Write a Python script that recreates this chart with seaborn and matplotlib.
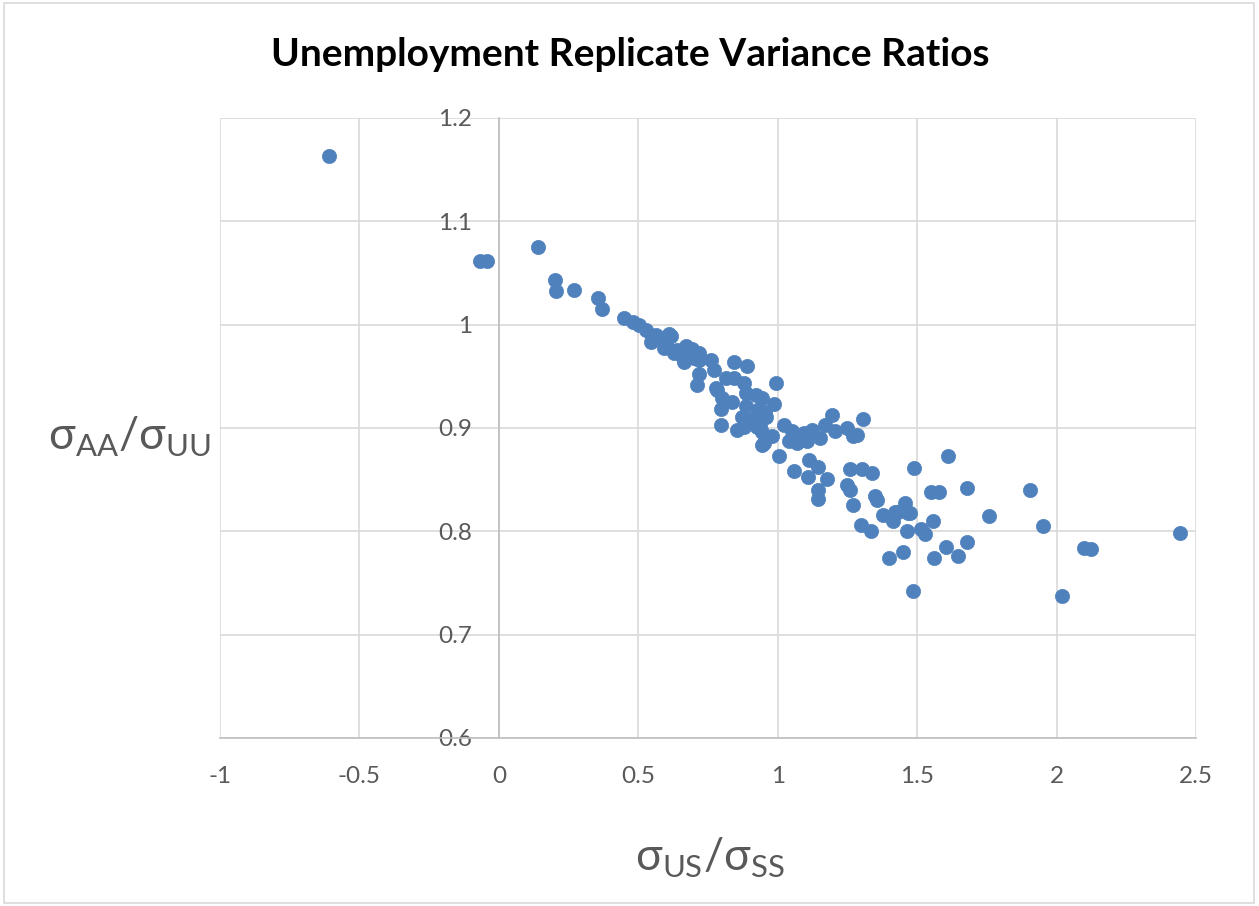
import numpy as np
import pandas as pd
import matplotlib
matplotlib.use("Agg")
import matplotlib.pyplot as plt
import seaborn as sns
from matplotlib.patches import Rectangle

# values
x_ratio = [-0.61, -0.068, -0.044, 0.14, 0.20, 0.206, 0.268, 0.357, 0.37, 0.45,
           0.48, 0.504, 0.527, 0.55, 0.545, 0.58, 0.61, 0.593, 0.629, 0.67,
           0.664, 0.694, 0.718, 0.718, 0.76, 0.771, 0.843, 0.89, 0.718, 0.712,
           0.813, 0.843, 0.879, 0.777, 0.782, 0.80, 0.836, 0.796, 0.886, 0.921,
           0.943, 0.993, 0.886, 0.932, 0.871, 0.914, 0.957, 0.796, 0.854, 0.879,
           0.925, 0.943, 0.943, 0.979, 0.986, 0.956, 0.938, 0.95, 1.004, 1.021,
           1.051, 1.04, 1.069, 1.093, 1.105, 1.123, 1.152, 1.17, 1.194, 1.206,
           1.248, 1.271, 1.284, 1.307, 1.111, 1.144, 1.057, 1.108, 1.176, 1.146,
           1.144, 1.26, 1.301, 1.337, 1.248, 1.26, 1.271, 1.349, 1.355, 1.379,
           1.42, 1.611, 1.49, 1.551, 1.579, 1.68, 1.906, 1.456, 1.468, 1.557,
           1.757, 1.462, 1.515, 1.527, 1.45, 1.561, 1.602, 1.646, 1.68, 1.95,
           1.486, 2.021, 2.099, 2.123, 2.444, 1.432, 1.474, 1.414, 1.40, 1.30,
           1.336, 0.565, 0.60, 0.64, 0.655, 0.70, 0.617]
y_ratio = [1.163, 1.062, 1.062, 1.075, 1.043, 1.033, 1.034, 1.026, 1.015, 1.006,
           1.003, 1.000, 0.995, 0.989, 0.983, 0.987, 0.991, 0.977, 0.973, 0.979,
           0.964, 0.976, 0.973, 0.966, 0.966, 0.956, 0.964, 0.960, 0.952, 0.942,
           0.948, 0.948, 0.944, 0.939, 0.937, 0.929, 0.925, 0.918, 0.934, 0.932,
           0.929, 0.944, 0.921, 0.918, 0.911, 0.910, 0.911, 0.903, 0.898, 0.901,
           0.901, 0.896, 0.884, 0.892, 0.923, 0.915, 0.902, 0.885, 0.873, 0.903,
           0.897, 0.887, 0.885, 0.895, 0.887, 0.898, 0.890, 0.903, 0.913, 0.897,
           0.900, 0.892, 0.893, 0.909, 0.869, 0.862, 0.858, 0.853, 0.851, 0.840,
           0.831, 0.860, 0.860, 0.856, 0.845, 0.840, 0.825, 0.834, 0.830, 0.816,
           0.819, 0.873, 0.861, 0.838, 0.838, 0.842, 0.840, 0.827, 0.818, 0.810,
           0.815, 0.800, 0.802, 0.797, 0.780, 0.774, 0.785, 0.776, 0.790, 0.805,
           0.742, 0.737, 0.784, 0.783, 0.798, 0.819, 0.818, 0.810, 0.774, 0.806,
           0.800, 0.990, 0.982, 0.975, 0.970, 0.968, 0.989]

x_ticks = [-1, -0.5, 0, 0.5, 1, 1.5, 2, 2.5]
x_tick_labels = ["-1", "-0.5", "0", "0.5", "1", "1.5", "2", "2.5"]
y_ticks = [0.6, 0.7, 0.8, 0.9, 1.0, 1.1, 1.2]
y_tick_labels = ["0.6", "0.7", "0.8", "0.9", "1", "1.1", "1.2"]

df = pd.DataFrame({"x": x_ratio, "y": y_ratio})

sns.set_style("white")
plt.rcParams["font.family"] = ["Lato", "DejaVu Sans"]

fig = plt.figure(figsize=(12.59, 9.06), dpi=100)
ax = fig.add_axes([220 / 1259, 1 - 738 / 906, (1196 - 220) / 1259, (738 - 118) / 906])

grey = "#595959"
grid = "#D9D9D9"

sns.scatterplot(data=df, x="x", y="y", ax=ax, color="#4F81BD", s=105,
                edgecolor="#4F81BD", linewidth=0.5, zorder=3)

ax.set_xlim(-1, 2.5)
ax.set_ylim(0.6, 1.2)
ax.set_xticks(x_ticks)
ax.set_xticklabels(x_tick_labels)
ax.set_yticks(y_ticks)
ax.set_yticklabels(y_tick_labels)
ax.grid(True, color=grid, linewidth=1.2, zorder=0)
ax.set_axisbelow(True)

for side in ["top", "right"]:
    ax.spines[side].set_visible(False)
ax.spines["left"].set_position(("data", 0))
ax.spines["left"].set_color("#BFBFBF")
ax.spines["left"].set_linewidth(1.2)
ax.spines["bottom"].set_color("#BFBFBF")
ax.spines["bottom"].set_linewidth(1.2)
ax.tick_params(axis="both", length=0, labelsize=17.5, labelcolor=grey)
ax.tick_params(axis="x", pad=20)
ax.tick_params(axis="y", pad=19)
ax.set_xlabel("")
ax.set_ylabel("")

fig.text(630 / 1259, 1 - 55 / 906, "Unemployment Replicate Variance Ratios",
         ha="center", va="center", fontsize=28, fontweight="bold", color="black")
fig.text(129 / 1259, 1 - 437 / 906, r"σ$_{\mathregular{AA}}$/σ$_{\mathregular{UU}}$",
         ha="center", va="center", fontsize=32, color=grey)
fig.text(710 / 1259, 1 - 858 / 906, r"σ$_{\mathregular{US}}$/σ$_{\mathregular{SS}}$",
         ha="center", va="center", fontsize=32, color=grey)

fig.patches.append(Rectangle((4 / 1259, 3 / 906), 1250 / 1259, 900 / 906,
                             transform=fig.transFigure, fill=False,
                             edgecolor=grid, linewidth=1.2))

plt.savefig("out.png", dpi=100)
